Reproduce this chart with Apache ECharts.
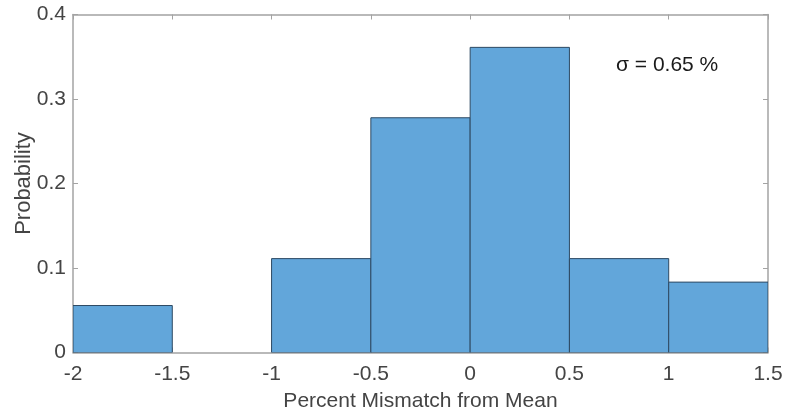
<!DOCTYPE html>
<html><head><meta charset="utf-8">
<script src="https://cdn.jsdelivr.net/npm/echarts@6/dist/echarts.min.js"></script>
<style>html,body{margin:0;padding:0;background:#fff}#c{width:787px;height:418px}</style>
</head><body><div id="c"></div>
<script>
const binEdges = [-2, -1.5, -1, -0.5, 0, 0.5, 1, 1.5];
const probabilities = [0.0556, 0, 0.1111, 0.2778, 0.3611, 0.1111, 0.0833];
const xTicks = [-2, -1.5, -1, -0.5, 0, 0.5, 1, 1.5];
const yTicks = [0, 0.1, 0.2, 0.3, 0.4];
const annotation = 'σ = 0.65 %';
const xTitle = 'Percent Mismatch from Mean';
const yTitle = 'Probability';

const bins = probabilities.map((p, i) => [binEdges[i], binEdges[i + 1], p]);
const font = 'Liberation Sans, Arial, sans-serif';
const axisGray = '#a3a3a3';
const textCol = '#444444';

const chart = echarts.init(document.getElementById('c'), null, {renderer: 'canvas'});
chart.setOption({
  animation: false,
  grid: {left: 73, right: 19, top: 14.5, bottom: 65.5, containLabel: false, outerBoundsMode: 'none'},
  xAxis: [{
    type: 'value', min: -2, max: 1.5, interval: 0.5,
    name: xTitle, nameLocation: 'middle', nameGap: 38, nameMoveOverlap: false,
    nameTextStyle: {fontFamily: font, fontSize: 21, color: textCol},
    axisLine: {show: true, onZero: false, lineStyle: {color: axisGray, width: 1.5}},
    axisTick: {show: true, inside: true, length: 5, lineStyle: {color: axisGray}},
    axisLabel: {fontFamily: font, fontSize: 21, color: textCol, margin: 11,
      customValues: xTicks},
    splitLine: {show: false}
  }, {
    type: 'value', min: -2, max: 1.5, interval: 0.5, position: 'top',
    axisLine: {show: true, onZero: false, lineStyle: {color: axisGray, width: 1.5}},
    axisTick: {show: true, inside: true, length: 5, lineStyle: {color: axisGray}},
    axisLabel: {show: false}, splitLine: {show: false}
  }],
  yAxis: [{
    type: 'value', min: 0, max: 0.4, interval: 0.1,
    name: yTitle, nameLocation: 'middle', nameGap: 38, nameRotate: 90, nameMoveOverlap: false,
    nameTextStyle: {fontFamily: font, fontSize: 22, color: textCol},
    axisLine: {show: true, onZero: false, lineStyle: {color: axisGray, width: 1.5}},
    axisTick: {show: true, inside: true, length: 5, lineStyle: {color: axisGray}},
    axisLabel: {fontFamily: font, fontSize: 21, color: textCol, margin: 7,
      customValues: yTicks},
    splitLine: {show: false}
  }, {
    type: 'value', min: 0, max: 0.4, interval: 0.1, position: 'right',
    axisLine: {show: true, onZero: false, lineStyle: {color: axisGray, width: 1.5}},
    axisTick: {show: true, inside: true, length: 5, lineStyle: {color: axisGray}},
    axisLabel: {show: false}, splitLine: {show: false}
  }],
  series: [{
    type: 'custom',
    data: bins,
    encode: {x: [0, 1], y: 2},
    clip: true,
    renderItem: function (params, api) {
      const p0 = api.coord([api.value(0), 0]);
      const p1 = api.coord([api.value(1), api.value(2)]);
      const h = p0[1] - p1[1];
      if (h <= 0) return null;
      return {
        type: 'rect',
        shape: {x: p0[0], y: p1[1], width: p1[0] - p0[0], height: h},
        style: {fill: '#62a6da', stroke: '#2e4a63', lineWidth: 1}
      };
    },
    z: 1
  }],
  graphic: [{
    type: 'text', left: 616, top: 55,
    style: {text: annotation, font: '21px ' + font, fill: '#1a1a1a'}
  }]
});
</script></body></html>
